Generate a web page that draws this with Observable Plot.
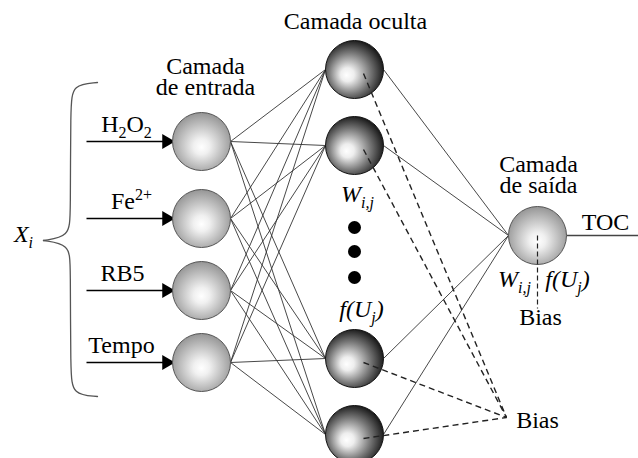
<!DOCTYPE html>
<html>
<head>
<meta charset="utf-8">
<script src="https://cdn.jsdelivr.net/npm/d3@7"></script>
<script src="https://cdn.jsdelivr.net/npm/@observablehq/plot@0.6"></script>
<style>
  html, body { margin: 0; padding: 0; background: #fff; }
  svg text { font-family: "Liberation Serif", "DejaVu Serif", serif !important; }
</style>
</head>
<body>
<div id="chart"></div>
<script>
// ---- diagram data ----
const inputLabels = ["H_2O_2", "Fe^{2+}", "RB5", "Tempo"];
const inputY = [141, 218, 290, 362];
const inputLabelX = [126, 131, 122, 121];
const hiddenY = [69, 145, 358, 434];
const outputY = [235];
const layerX = [201, 354, 537];          // input, hidden, output layer
const ellipsisY = [227, 251, 277];
const arrowStartX = 86;
const biasPoint = [506, 417];
const titleTexts = ["Camada oculta", "Camada\nde entrada", "Camada\nde saída"];
const titleX = [355, 205, 538];
const titleY = [22, 77, 175];
const italicTexts = ["X_i", "W_{i,j}", "f(U_j)", "W_{i,j}", "f(U_j)"];
const italicX = [23, 357, 361, 514, 567];
const italicY = [234, 194, 309, 279, 279];
const plainTexts = ["TOC", "Bias", "Bias"];
const plainX = [605, 540, 537];
const plainY = [222, 317, 420];
const braceTop = [[97, 82], [72, 84], [70, 106], [70, 214], [69, 236], [43, 240]];
const braceBottom = [[97, 396], [72, 394], [70, 372], [70, 264], [69, 244], [43, 240]];

const W = 638, H = 458, R = 29;
const [inX, hidX, outX] = layerX;

const inToHidden = inputY.flatMap(yi => hiddenY.map(yh => ({x1: inX + R, y1: yi, x2: hidX - R, y2: yh})));
const hiddenToOut = hiddenY.map(yh => ({x1: hidX + R, y1: yh, x2: outX - R, y2: outputY[0]}));
const biasLinks = hiddenY.map(yh => ({x1: hidX + 9, y1: yh + 4, x2: biasPoint[0], y2: biasPoint[1]}));
const inputs = inputLabels.map((label, i) => ({label, y: inputY[i], lx: inputLabelX[i]}));
const hidden = hiddenY.map(y => ({x: hidX, y}));
const outputs = outputY.map(y => ({x: outX, y}));
const titles = titleTexts.map((t, i) => ({t, x: titleX[i], y: titleY[i]}));
const italics = italicTexts.map((t, i) => ({t, x: italicX[i], y: italicY[i]}));
const plains = plainTexts.map((t, i) => ({t, x: plainX[i], y: plainY[i]}));
const brace = [...braceTop.map(([x, y]) => ({x, y, z: "a"})), ...braceBottom.map(([x, y]) => ({x, y, z: "b"}))];

const font = "Liberation Serif";

const svg = Plot.plot({
  width: W, height: H, margin: 0,
  x: {domain: [0, W], range: [0, W], axis: null},
  y: {domain: [0, H], range: [0, H], axis: null},
  style: {background: "white", color: "black", fontFamily: "Liberation Serif"},
  marks: [
    Plot.link(inToHidden, {x1: "x1", y1: "y1", x2: "x2", y2: "y2", stroke: "#333", strokeWidth: 0.9}),
    Plot.link(hiddenToOut, {x1: "x1", y1: "y1", x2: "x2", y2: "y2", stroke: "#333", strokeWidth: 0.9}),
    Plot.link(outputs, {x1: d => d.x + R, x2: W, y1: "y", y2: "y", stroke: "#444", strokeWidth: 1.6}),
    Plot.link(inputs, {x1: arrowStartX, x2: inX - R - 8, y1: "y", y2: "y", stroke: "black", strokeWidth: 1.5}),
    Plot.dot(inputs, {x: inX - R - 6, y: "y", symbol: "triangle", r: 5.5, rotate: 90, fill: "black", stroke: "none"}),
    Plot.line(brace, {x: "x", y: "y", z: "z", curve: "basis", stroke: "#555", strokeWidth: 1.3}),
    Plot.dot(inputs, {x: inX, y: "y", r: R, fill: "url(#gIn)", stroke: "#555", strokeWidth: 1}),
    Plot.dot(hidden, {x: "x", y: "y", r: R, fill: "url(#gHid)", stroke: "#111", strokeWidth: 1}),
    Plot.dot(outputs, {x: "x", y: "y", r: R, fill: "url(#gIn)", stroke: "#555", strokeWidth: 1}),
    Plot.link(biasLinks, {x1: "x1", y1: "y1", x2: "x2", y2: "y2", stroke: "#222", strokeWidth: 1.4, strokeDasharray: "6,4"}),
    Plot.link(outputs, {x1: "x", x2: "x", y1: "y", y2: d => d.y + 73, stroke: "#222", strokeWidth: 1.2, strokeDasharray: "5,3"}),
    Plot.dot(ellipsisY, {x: hidX, y: d => d, r: 6.5, fill: "black", stroke: "none"}),
    Plot.text(titles, {x: "x", y: "y", text: "t", fontSize: 24, fontFamily: font, lineHeight: 0.9, fill: "black"}),
    Plot.text(inputs, {x: "lx", y: d => d.y - 17, text: "label", fontSize: 24, fontFamily: font, fill: "black"}),
    Plot.text(italics, {x: "x", y: "y", text: "t", fontSize: 24, fontFamily: font, fontStyle: "italic", fill: "black"}),
    Plot.text(plains, {x: "x", y: "y", text: "t", fontSize: 24, fontFamily: font, fill: "black"})
  ]
});

// gradients for the node spheres
d3.select(svg).insert("defs", ":first-child").html(`
  <radialGradient id="gIn" cx="0.5" cy="0.55" r="0.55" fx="0.5" fy="0.6">
    <stop offset="0" stop-color="#ffffff"/>
    <stop offset="0.25" stop-color="#f0f0f0"/>
    <stop offset="1" stop-color="#959595"/>
  </radialGradient>
  <radialGradient id="gHid" cx="0.45" cy="0.55" r="0.58" fx="0.36" fy="0.6">
    <stop offset="0" stop-color="#ffffff"/>
    <stop offset="0.2" stop-color="#eeeeee"/>
    <stop offset="0.62" stop-color="#777777"/>
    <stop offset="1" stop-color="#121212"/>
  </radialGradient>`);

// render _sub and ^{sup} markup as real tspans
d3.select(svg).selectAll("text").each(function() {
  const el = this;
  el.style.fontFamily = "'Liberation Serif', serif";
  if (el.querySelector("tspan")) return;
  const s = el.textContent;
  if (!/[_^]/.test(s)) return;
  const parts = [];
  const re = /([_^])(\{[^}]*\}|.)/g;
  let last = 0, m;
  while ((m = re.exec(s))) {
    if (m.index > last) parts.push({t: s.slice(last, m.index), k: "n"});
    parts.push({t: m[2].replace(/[{}]/g, ""), k: m[1] === "_" ? "sub" : "sup"});
    last = re.lastIndex;
  }
  if (last < s.length) parts.push({t: s.slice(last), k: "n"});
  el.textContent = "";
  let shift = 0;
  for (const p of parts) {
    const ts = document.createElementNS("http://www.w3.org/2000/svg", "tspan");
    const target = p.k === "sub" ? 6 : p.k === "sup" ? -9 : 0;
    ts.setAttribute("dy", target - shift);
    shift = target;
    if (p.k !== "n") ts.setAttribute("font-size", 16);
    ts.textContent = p.t;
    el.appendChild(ts);
  }
});

document.getElementById("chart").appendChild(svg);
</script>
</body>
</html>
